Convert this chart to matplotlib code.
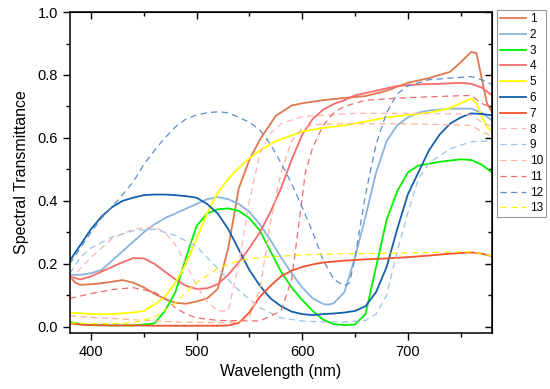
import numpy as np
import matplotlib.pyplot as plt
from matplotlib.ticker import MultipleLocator

plt.rcParams['font.family'] = ['Liberation Sans', 'DejaVu Sans']

# Datos (longitud de onda en nm, transmitancia)
w1 = [380, 385, 390, 400, 410, 420, 430, 440, 450, 460, 470, 480, 490, 500, 510, 520, 530, 540, 550,
      560, 575, 590, 600, 620, 640, 660, 680, 700, 720, 740, 750, 760, 765, 770, 775, 780]
t1 = [0.16, 0.14, 0.133, 0.135, 0.138, 0.143, 0.148, 0.14, 0.125, 0.105, 0.088, 0.076, 0.073, 0.08,
      0.09, 0.12, 0.25, 0.44, 0.53, 0.595, 0.67, 0.703, 0.71, 0.72, 0.727, 0.733, 0.75, 0.775,
      0.79, 0.81, 0.84, 0.873, 0.87, 0.79, 0.71, 0.68]

w2 = [380, 390, 400, 410, 420, 430, 440, 450, 460, 470, 480, 490, 500, 510, 520, 530, 540, 550, 560,
      570, 580, 590, 600, 610, 620, 625, 630, 640, 650, 660, 670, 680, 690, 700, 710, 720, 740, 760,
      770, 780]
t2 = [0.165, 0.165, 0.17, 0.18, 0.21, 0.24, 0.27, 0.30, 0.325, 0.345, 0.36, 0.375, 0.39, 0.405, 0.412,
      0.405, 0.39, 0.365, 0.325, 0.275, 0.22, 0.17, 0.125, 0.09, 0.072, 0.07, 0.075, 0.11, 0.22, 0.35,
      0.49, 0.59, 0.64, 0.665, 0.68, 0.687, 0.693, 0.693, 0.68, 0.655]

w3 = [380, 390, 400, 420, 440, 460, 470, 480, 490, 500, 510, 520, 530, 540, 550, 560, 570, 580, 590,
      600, 610, 620, 630, 640, 650, 660, 670, 680, 690, 700, 710, 730, 750, 760, 770, 780]
t3 = [0.015, 0.008, 0.005, 0.004, 0.004, 0.01, 0.05, 0.11, 0.22, 0.32, 0.36, 0.373, 0.376, 0.368,
      0.345, 0.305, 0.24, 0.175, 0.125, 0.085, 0.05, 0.022, 0.008, 0.005, 0.007, 0.04, 0.19, 0.34, 0.43,
      0.49, 0.512, 0.524, 0.532, 0.53, 0.515, 0.49]

w4 = [380, 390, 400, 410, 420, 430, 440, 450, 460, 470, 480, 490, 500, 510, 520, 530, 540, 550, 560,
      570, 580, 590, 600, 610, 620, 630, 640, 650, 670, 690, 710, 730, 750, 760, 770, 780]
t4 = [0.16, 0.15, 0.16, 0.175, 0.19, 0.205, 0.218, 0.217, 0.2, 0.175, 0.15, 0.13, 0.12, 0.122, 0.135,
      0.165, 0.205, 0.25, 0.3, 0.365, 0.44, 0.53, 0.61, 0.66, 0.69, 0.708, 0.72, 0.735, 0.75, 0.765,
      0.77, 0.772, 0.775, 0.772, 0.76, 0.735]

w5 = [380, 400, 420, 440, 450, 460, 470, 480, 490, 500, 510, 520, 530, 540, 550, 560, 575, 600,
      620, 640, 660, 680, 700, 720, 740, 750, 760, 765, 770, 775, 780]
t5 = [0.045, 0.04, 0.04, 0.045, 0.05, 0.07, 0.095, 0.14, 0.2, 0.28, 0.36, 0.425, 0.47, 0.505, 0.535,
      0.56, 0.59, 0.62, 0.632, 0.64, 0.652, 0.665, 0.673, 0.68, 0.695, 0.71, 0.725, 0.71, 0.67, 0.635,
      0.62]

w6 = [380, 390, 400, 410, 420, 430, 440, 450, 460, 470, 480, 490, 500, 510, 520, 530, 540, 550, 560,
      570, 580, 590, 600, 610, 620, 630, 640, 650, 660, 670, 680, 690, 700, 710, 720, 730, 740, 750,
      760, 770, 780]
t6 = [0.21, 0.26, 0.31, 0.35, 0.38, 0.40, 0.41, 0.418, 0.42, 0.42, 0.418, 0.415, 0.41, 0.39, 0.36,
      0.31, 0.245, 0.18, 0.13, 0.09, 0.065, 0.048, 0.04, 0.037, 0.04, 0.042, 0.045, 0.05, 0.065, 0.11,
      0.19, 0.31, 0.42, 0.49, 0.56, 0.61, 0.645, 0.665, 0.678, 0.676, 0.672]

w7 = [380, 390, 400, 420, 440, 460, 480, 500, 520, 530, 540, 550, 560, 570, 580, 590, 600, 610, 620,
      640, 660, 680, 700, 720, 740, 760, 770, 780]
t7 = [0.01, 0.007, 0.005, 0.004, 0.004, 0.003, 0.003, 0.003, 0.003, 0.004, 0.012, 0.045, 0.095, 0.13,
      0.16, 0.178, 0.19, 0.198, 0.204, 0.21, 0.214, 0.217, 0.221, 0.226, 0.232, 0.236, 0.232, 0.224]

w8 = [380, 400, 420, 440, 460, 470, 480, 490, 500, 510, 520, 530, 540, 550, 560, 570, 580, 590,
      600, 650, 700, 750, 760, 770, 780]
t8 = [0.15, 0.22, 0.28, 0.31, 0.318, 0.3, 0.26, 0.2, 0.13, 0.08, 0.05, 0.05, 0.2, 0.4, 0.55, 0.615,
      0.645, 0.657, 0.668, 0.678, 0.678, 0.676, 0.672, 0.65, 0.635]

w9 = [380, 390, 400, 420, 440, 460, 480, 500, 520, 540, 560, 580, 600, 620, 640, 660, 670, 680, 690,
      700, 710, 720, 740, 760, 780]
t9 = [0.17, 0.22, 0.25, 0.285, 0.305, 0.31, 0.29, 0.255, 0.185, 0.115, 0.06, 0.028, 0.018, 0.015, 0.015,
      0.02, 0.04, 0.1, 0.24, 0.36, 0.47, 0.52, 0.565, 0.588, 0.59]

w10 = [380, 400, 440, 480, 520, 540, 550, 560, 570, 580, 590, 600, 610, 640, 700, 760, 770, 780]
t10 = [0.035, 0.03, 0.022, 0.015, 0.012, 0.015, 0.03, 0.12, 0.33, 0.49, 0.59, 0.63, 0.642, 0.645, 0.645,
       0.64, 0.62, 0.604]

w11 = [380, 400, 420, 440, 460, 470, 480, 490, 500, 520, 560, 580, 590, 597, 603, 610, 620, 630, 640,
       660, 700, 740, 760, 770, 780]
t11 = [0.09, 0.105, 0.118, 0.124, 0.11, 0.09, 0.06, 0.04, 0.028, 0.02, 0.018, 0.05, 0.15, 0.33, 0.49,
       0.57, 0.64, 0.68, 0.70, 0.72, 0.728, 0.733, 0.735, 0.71, 0.694]

w12 = [380, 390, 400, 410, 420, 430, 440, 450, 460, 470, 480, 490, 500, 510, 520, 530, 540, 550, 560,
       570, 580, 590, 600, 610, 620, 630, 640, 645, 650, 660, 670, 680, 690, 700, 720, 740, 760, 770,
       780]
t12 = [0.2, 0.25, 0.3, 0.345, 0.38, 0.42, 0.46, 0.515, 0.56, 0.6, 0.635, 0.66, 0.673, 0.68, 0.683,
       0.68, 0.665, 0.65, 0.625, 0.58, 0.52, 0.455, 0.38, 0.3, 0.21, 0.15, 0.13, 0.14, 0.22, 0.42, 0.58,
       0.68, 0.74, 0.765, 0.785, 0.79, 0.795, 0.785, 0.77]

w13 = [380, 400, 420, 440, 460, 480, 490, 500, 520, 540, 560, 600, 640, 700, 760, 780]
t13 = [0.012, 0.01, 0.01, 0.012, 0.03, 0.075, 0.11, 0.14, 0.185, 0.21, 0.22, 0.228, 0.232, 0.234,
       0.238, 0.225]

series = [(w1, t1), (w2, t2), (w3, t3), (w4, t4), (w5, t5), (w6, t6), (w7, t7),
          (w8, t8), (w9, t9), (w10, t10), (w11, t11), (w12, t12), (w13, t13)]
colores = ['#E0784F', '#8AB4DD', '#00F000', '#F86B6B', '#FFFF00', '#1560AA', '#F2532E',
           '#FFB3B3', '#9CC3E8', '#FFB199', '#F06A6A', '#5B8EC9', '#FFF200']
etiquetas = [str(i) for i in range(1, 14)]

fig = plt.figure(figsize=(5.5, 3.89), dpi=100)
ax = fig.add_axes([0.127, 0.144, 0.768, 0.825])

for i, (w, t) in enumerate(series):
    if i < 7:
        ax.plot(w, t, color=colores[i], lw=1.3, label=etiquetas[i])
    else:
        ax.plot(w, t, color=colores[i], lw=0.9, ls=(0, (5, 3.5)), label=etiquetas[i])

ax.set_xlim(380, 780)
ax.set_ylim(-0.02, 1.0)
ax.xaxis.set_major_locator(MultipleLocator(100))
ax.xaxis.set_minor_locator(MultipleLocator(50))
ax.yaxis.set_major_locator(MultipleLocator(0.2))
ax.yaxis.set_minor_locator(MultipleLocator(0.1))
ax.yaxis.set_major_formatter(plt.FuncFormatter(lambda v, p: f'{v:.1f}'))

ax.tick_params(which='both', direction='out', labelsize=10.5, width=1)
ax.tick_params(which='major', length=5)
ax.tick_params(which='minor', length=3)

# ticks espejo hacia adentro arriba y a la derecha
sec_x = ax.secondary_xaxis('top')
sec_x.xaxis.set_major_locator(MultipleLocator(100))
sec_x.xaxis.set_minor_locator(MultipleLocator(50))
sec_x.tick_params(which='both', direction='in', labeltop=False, width=1)
sec_x.tick_params(which='major', length=5)
sec_x.tick_params(which='minor', length=3)
sec_y = ax.secondary_yaxis('right')
sec_y.yaxis.set_major_locator(MultipleLocator(0.2))
sec_y.yaxis.set_minor_locator(MultipleLocator(0.1))
sec_y.tick_params(which='both', direction='in', labelright=False, width=1)
sec_y.tick_params(which='major', length=5)
sec_y.tick_params(which='minor', length=3)

for s in ax.spines.values():
    s.set_linewidth(1.1)

ax.set_xlabel('Wavelength (nm)', fontsize=11.5, labelpad=4)
ax.set_ylabel('Spectral Transmittance', fontsize=11.5, labelpad=6)

leg = ax.legend(loc='upper left', bbox_to_anchor=(1.012, 1.006), borderaxespad=0,
                fontsize=8.5, handlelength=2.2, handletextpad=0.3, labelspacing=0.32,
                fancybox=False, framealpha=1, edgecolor='#999999', borderpad=0.25)
leg.get_frame().set_linewidth(0.8)

plt.savefig('out.png', dpi=100)
